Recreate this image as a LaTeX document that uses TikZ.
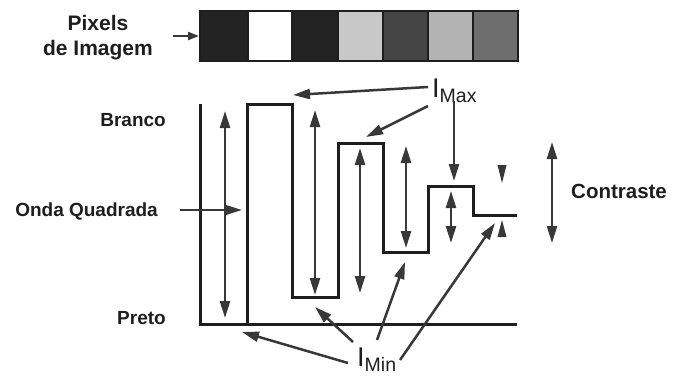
\documentclass[tikz,border=0pt]{standalone}
\usepackage{fontspec}
\setmainfont{Liberation Sans}
\usetikzlibrary{arrows.meta}
\definecolor{ink}{HTML}{1E1E1E}
\definecolor{argray}{HTML}{383838}
\definecolor{pxblack}{HTML}{222222}
\definecolor{pxlight}{HTML}{C8C8C8}
\definecolor{pxdark}{HTML}{454545}
\definecolor{pxmid}{HTML}{B3B3B3}
\definecolor{pxgray}{HTML}{6E6E6E}
\tikzset{
  wave/.style={draw=ink, line width=3pt, line join=miter},
  ar/.style={-{Triangle[length=17pt,width=10pt]}, line width=2.5pt, draw=argray},
  dar/.style={{Triangle[length=17pt,width=10pt]}-{Triangle[length=17pt,width=10pt]},
              line width=2.5pt, draw=argray},
  arsm/.style={-{Triangle[length=11pt,width=8pt]}, line width=2.2pt, draw=argray},
  lbl/.style={font=\bfseries\fontsize{19}{22}\selectfont, text=ink, inner sep=0pt},
  lblb/.style={lbl, font=\bfseries\fontsize{21}{25}\selectfont},
  ilbl/.style={inner sep=0pt, text=ink, anchor=base west},
  pix/.style={draw=ink, line width=2.4pt},
  tick/.style={fill=argray},
}
\newcommand{\ilev}[1]{{\fontsize{27}{27}\selectfont I}\raisebox{-5pt}{\fontsize{19.5}{20}\selectfont #1}}

\begin{document}
\begin{tikzpicture}[x=1pt,y=-1pt]
\useasboundingbox (0,0) rectangle (676,378);

% ===================== PIXEL ROW =====================
\foreach \xa/\xb/\c in {200/248/pxblack,248/292/white,292/338/pxblack,
                         338/383/pxlight,383/428/pxdark,428/473/pxmid,473/518/pxgray}
  \draw[pix, fill=\c] (\xa,11) rectangle (\xb,61);
\coordinate (PIXIN) at (199,36);
\node[lblb, align=center] (PIX) at (98,38) {Pixels\\de Imagem};
\coordinate (PIXOUT) at (173,36);
\draw[arsm] (PIXOUT) -- (PIXIN);

% ===================== LEVEL LABELS =====================
\node[lbl, anchor=base east] (BRANCO) at (166,126.5) {Branco};
\node[lbl, anchor=base east] (ONDA) at (158,216.5) {Onda Quadrada};
\node[lbl, anchor=base east] (PRETO) at (166,324.5) {Preto};
\node[lbl, font=\bfseries\fontsize{20.5}{24}\selectfont, anchor=base west] (CONTR) at (571,198.5) {Contraste};

% ===================== SQUARE WAVE =====================
\draw[wave] (200,104) -- (200,324) -- (517,324);
\draw[wave] (247,324) -- (247,104) -- (292,104) -- (292,297) -- (338,297)
  -- (338,143) -- (383,143) -- (383,252) -- (428,252) -- (428,186)
  -- (473,186) -- (473,215) -- (517,215);

\coordinate (ONDAOUT) at (180,210);
\coordinate (ONDAIN) at (242,210);
\draw[ar] (ONDAOUT) -- (ONDAIN);

% level spans
\foreach \x/\t/\b in {225/111/318, 315/110/295, 360/148/293, 406/146/248, 451/191/243}
  \draw[dar] (\x,\t) -- (\x,\b);
\fill[tick] (497.5,165) -- (506.5,165) -- (502,183) -- cycle;
\fill[tick] (497.5,237) -- (506.5,237) -- (502,220) -- cycle;
\draw[dar] (552,142) -- (552,243);

% ===================== I_MAX =====================
\node[ilbl] (IMAX) at (432,97) {\ilev{Max}};
\coordinate (MX1) at (428,87);
\coordinate (MX2) at (428,106);
\coordinate (MX3) at (454,101);
\coordinate (TOP1) at (293,95);
\coordinate (TOP2) at (366,137);
\coordinate (TOP3) at (454,181);
\draw[ar] (MX1) -- (TOP1);
\draw[ar] (MX2) -- (TOP2);
\draw[ar] (MX3) -- (TOP3);

% ===================== I_MIN =====================
\node[ilbl] (IMIN) at (357,366) {\ilev{Min}};
\coordinate (MN1) at (348,363);
\coordinate (MN2) at (353,342);
\coordinate (MN3) at (377,340);
\coordinate (MN4) at (400,360);
\coordinate (LOW1) at (242,332);
\coordinate (LOW2) at (315,307);
\coordinate (LOW3) at (405,262);
\coordinate (LOW4) at (495,223);
\draw[ar] (MN1) -- (LOW1);
\draw[ar] (MN2) -- (LOW2);
\draw[ar] (MN3) -- (LOW3);
\draw[ar] (MN4) -- (LOW4);

\end{tikzpicture}
\end{document}
